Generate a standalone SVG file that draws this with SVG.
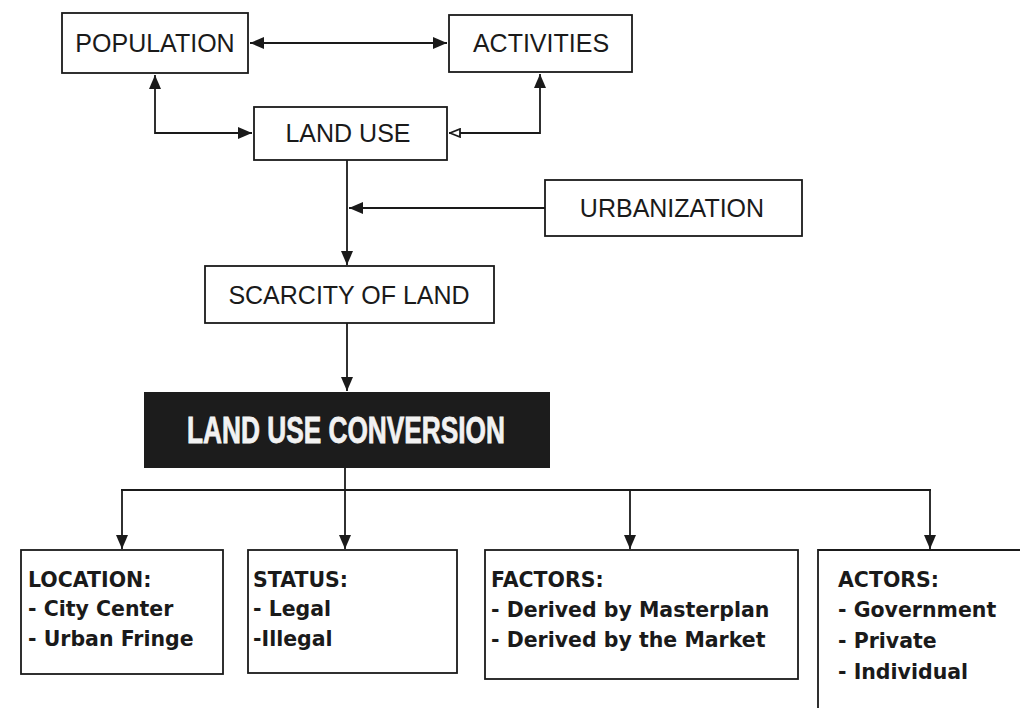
<svg xmlns="http://www.w3.org/2000/svg" width="1020" height="708" viewBox="0 0 1020 708">
<style>
.box{fill:#fff;stroke:#1a1a1a;stroke-width:1.8}
.lbl{font-family:"Liberation Sans",Arial,sans-serif;font-size:25px;fill:#1a1a1a;text-anchor:middle}
.item{font-family:"DejaVu Sans","Liberation Sans",sans-serif;font-weight:bold;font-size:20.5px;fill:#1a1a1a}
.con{fill:none;stroke:#1a1a1a;stroke-width:1.8}
</style>
<defs>
<marker id="ah" viewBox="0 0 14 12" refX="14" refY="6" markerWidth="14" markerHeight="12" markerUnits="userSpaceOnUse" orient="auto-start-reverse">
<path d="M0,0 L14,6 L0,12 z" fill="#1a1a1a"/>
</marker>
<marker id="ao" viewBox="0 0 12 10" refX="12" refY="5" markerWidth="12" markerHeight="10" markerUnits="userSpaceOnUse" orient="auto-start-reverse">
<path d="M1,1 L11,5 L1,9 z" fill="#fff" stroke="#1a1a1a" stroke-width="1.8"/>
</marker>
</defs>
<rect width="1020" height="708" fill="#fff"/>

<g id="connectors">
<line class="con" x1="250" y1="43" x2="447" y2="43" marker-start="url(#ah)" marker-end="url(#ah)"/>
<path class="con" d="M155,75 V133 H252" marker-start="url(#ah)" marker-end="url(#ah)"/>
<path class="con" d="M449,133 H540 V74" marker-start="url(#ao)" marker-end="url(#ah)"/>
<path class="con" d="M347,160 V265" marker-end="url(#ah)"/>
<line class="con" x1="545" y1="208" x2="349" y2="208" marker-end="url(#ah)"/>
<line class="con" x1="347" y1="323" x2="347" y2="391" marker-end="url(#ah)"/>
<line class="con" x1="345" y1="468" x2="345" y2="490"/>
<line class="con" x1="121" y1="490" x2="931" y2="490"/>
<line class="con" x1="122" y1="490" x2="122" y2="549" marker-end="url(#ah)"/>
<line class="con" x1="345" y1="490" x2="345" y2="549" marker-end="url(#ah)"/>
<line class="con" x1="630" y1="490" x2="630" y2="549" marker-end="url(#ah)"/>
<line class="con" x1="930" y1="490" x2="930" y2="549" marker-end="url(#ah)"/>
</g>

<g id="population">
<rect class="box" x="62" y="13" width="186" height="60"/>
<text class="lbl" x="155" y="52">POPULATION</text>
</g>
<g id="activities">
<rect class="box" x="449" y="15" width="183" height="57"/>
<text class="lbl" x="541" y="52">ACTIVITIES</text>
</g>
<g id="land-use">
<rect class="box" x="254" y="107" width="193" height="53"/>
<text class="lbl" x="348" y="142">LAND USE</text>
</g>
<g id="urbanization">
<rect class="box" x="545" y="180" width="257" height="56"/>
<text class="lbl" x="672" y="217">URBANIZATION</text>
</g>
<g id="scarcity">
<rect class="box" x="205" y="266" width="289" height="57"/>
<text class="lbl" x="349" y="304">SCARCITY OF LAND</text>
</g>
<g id="land-use-conversion">
<rect x="144" y="392" width="406" height="76" fill="#1c1c1c"/>
<text x="346" y="443" font-family="Liberation Sans,Arial,sans-serif" font-weight="bold" font-size="36" fill="#f2f2f2" stroke="#f2f2f2" stroke-width="0.8" text-anchor="middle" textLength="318" lengthAdjust="spacingAndGlyphs">LAND USE CONVERSION</text>
</g>
<g id="location">
<rect class="box" x="21" y="550" width="202" height="124"/>
<text class="item" x="28" y="587">LOCATION:</text>
<text class="item" x="28" y="616">- City Center</text>
<text class="item" x="28" y="646">- Urban Fringe</text>
</g>
<g id="status">
<rect class="box" x="248" y="550" width="209" height="123"/>
<text class="item" x="253" y="587">STATUS:</text>
<text class="item" x="253" y="616">- Legal</text>
<text class="item" x="253" y="646">-Illegal</text>
</g>
<g id="factors">
<rect class="box" x="485" y="550" width="313" height="129"/>
<text class="item" x="491" y="587">FACTORS:</text>
<text class="item" x="491" y="617">- Derived by Masterplan</text>
<text class="item" x="491" y="647">- Derived by the Market</text>
</g>
<g id="actors">
<path class="box" d="M818,708 V550 H1022"/>
<text class="item" x="838" y="587">ACTORS:</text>
<text class="item" x="838" y="617">- Government</text>
<text class="item" x="838" y="648">- Private</text>
<text class="item" x="838" y="679">- Individual</text>
</g>
</svg>
